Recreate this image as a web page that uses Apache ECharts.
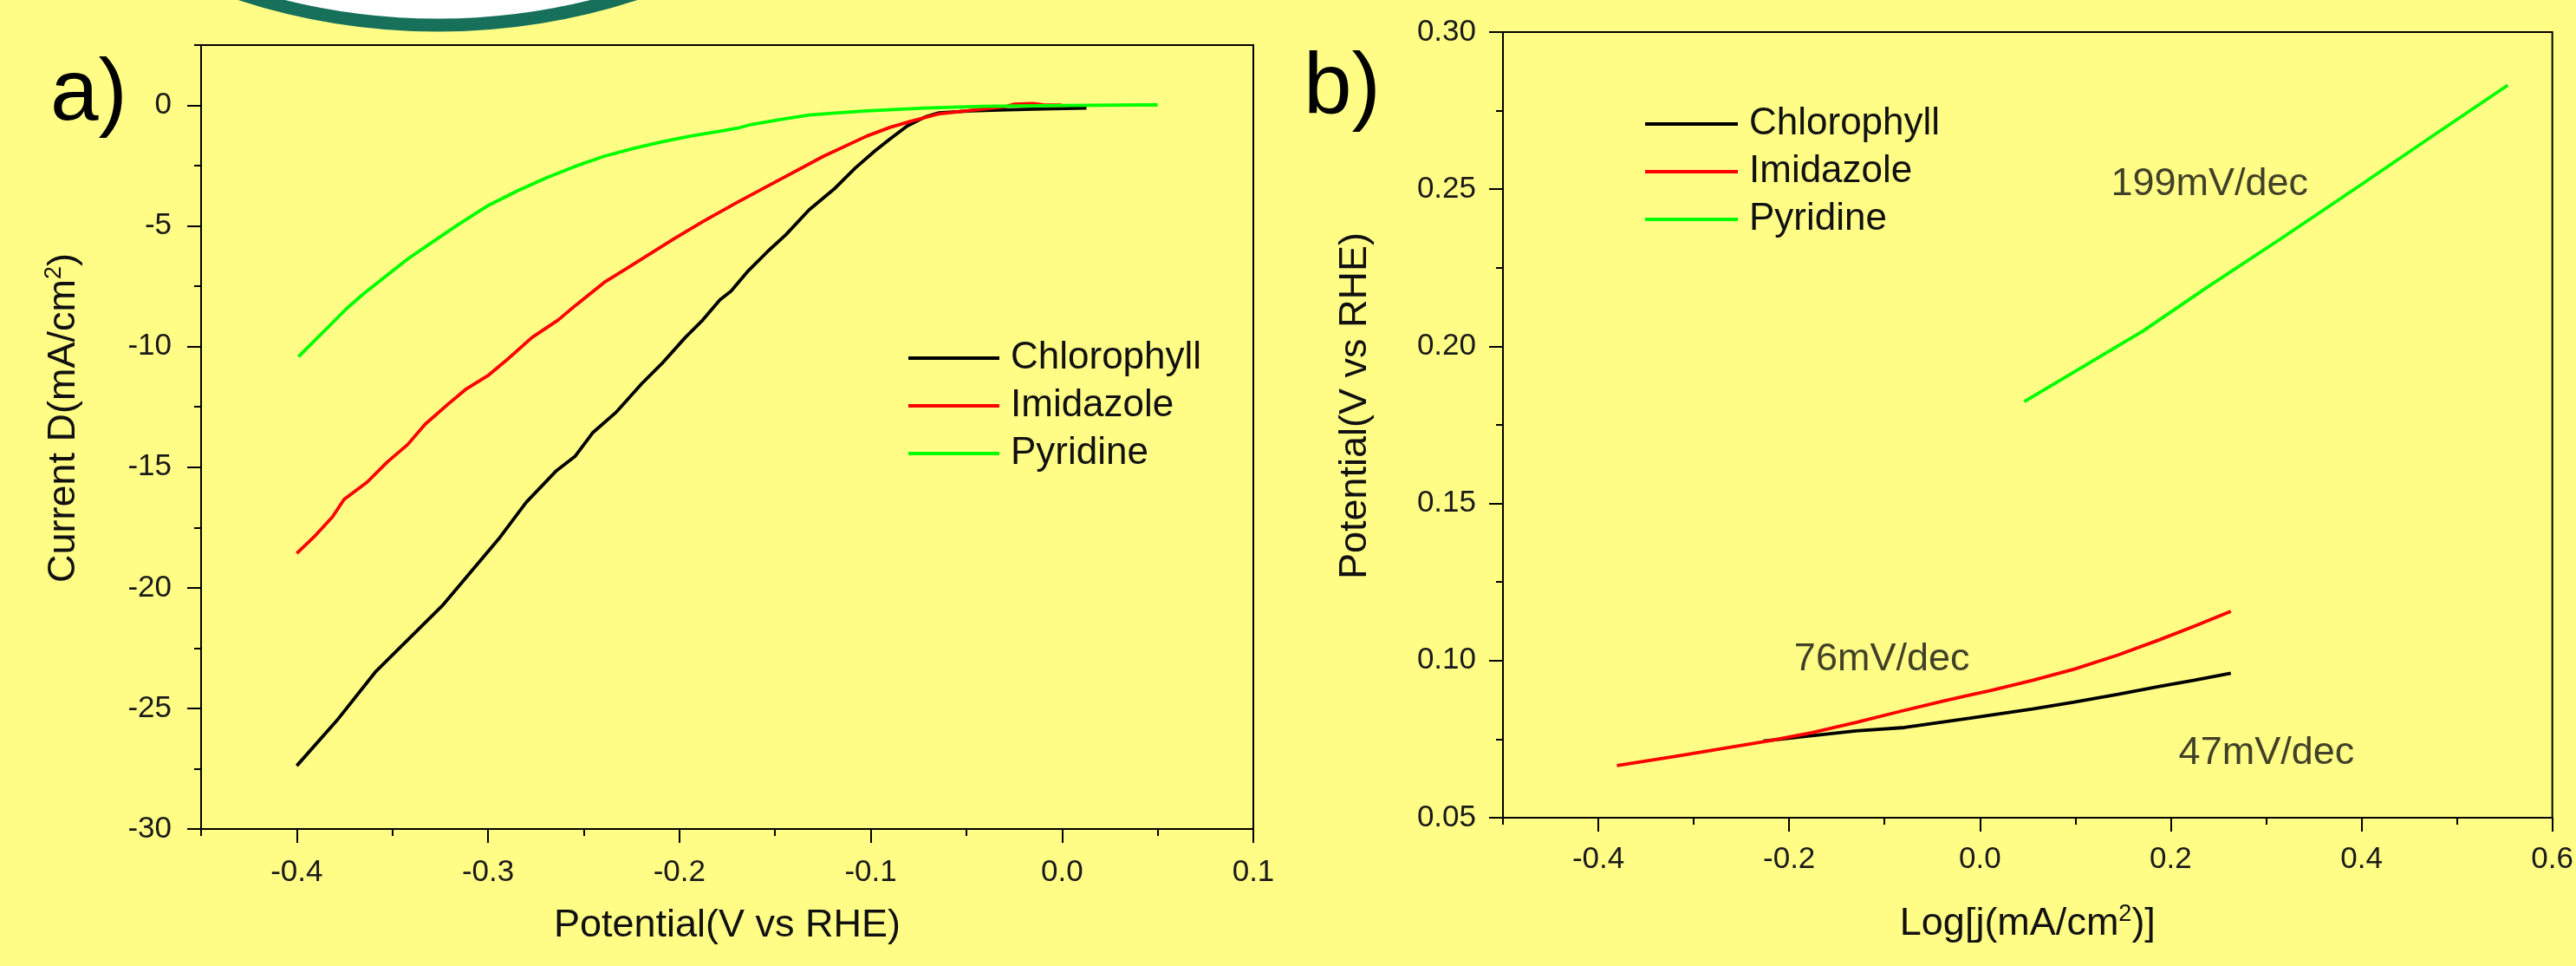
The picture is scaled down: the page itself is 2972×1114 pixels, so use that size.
<!DOCTYPE html>
<html>
<head>
<meta charset="utf-8">
<script src="https://cdn.jsdelivr.net/npm/echarts@6/dist/echarts.min.js"></script>
<style>
  html, body { margin: 0; padding: 0; background: #FFFD86; }
  #main { width: 2972px; height: 1114px; }
</style>
</head>
<body>
<div id="main"></div>
<script>
// ---------- data ----------
const seriesNames = ['Chlorophyll', 'Imidazole', 'Pyridine'];
const seriesColors = ['#000000', '#FF0000', '#00FF00'];

// panel a: Potential (V vs RHE) vs Current density (mA/cm2)
const chlorophyllA = [
  [-0.400, -27.38], [-0.379, -25.50], [-0.359, -23.50], [-0.324, -20.75],
  [-0.2937, -17.90], [-0.2801, -16.46], [-0.2642, -15.14], [-0.2544, -14.54],
  [-0.2454, -13.58], [-0.2333, -12.74], [-0.2197, -11.54], [-0.2091, -10.70],
  [-0.1969, -9.62], [-0.1878, -8.90], [-0.1788, -8.06], [-0.1730, -7.70],
  [-0.1640, -6.86], [-0.1534, -6.02], [-0.1443, -5.36], [-0.1322, -4.33],
  [-0.1186, -3.43], [-0.1080, -2.59], [-0.0975, -1.87], [-0.0899, -1.39],
  [-0.0809, -0.85], [-0.0718, -0.49], [-0.0643, -0.31], [-0.0476, -0.23],
  [-0.0326, -0.19], [-0.010, -0.15], [0.0128, -0.11]
];
const imidazoleA = [
  [-0.400, -18.57], [-0.3911, -17.90], [-0.3813, -17.06], [-0.3753, -16.34],
  [-0.3632, -15.62], [-0.3526, -14.78], [-0.3420, -14.06], [-0.3329, -13.22],
  [-0.3208, -12.38], [-0.3118, -11.78], [-0.2997, -11.18], [-0.2906, -10.58],
  [-0.2770, -9.62], [-0.2634, -8.90], [-0.2544, -8.30], [-0.2393, -7.34],
  [-0.2272, -6.74], [-0.2151, -6.14], [-0.2030, -5.54], [-0.1878, -4.82],
  [-0.1700, -4.03], [-0.1473, -3.07], [-0.1247, -2.11], [-0.1020, -1.27],
  [-0.0899, -0.91], [-0.0794, -0.67], [-0.0643, -0.35], [-0.0462, -0.19],
  [-0.0300, -0.06], [-0.0250, 0.05], [-0.0152, 0.08], [-0.0100, 0.02], [0.000, 0.01]
];
const pyridineA = [
  [-0.3991, -10.42], [-0.3905, -9.74], [-0.3829, -9.14], [-0.3739, -8.42],
  [-0.3648, -7.79], [-0.3527, -7.04], [-0.3422, -6.38], [-0.3301, -5.72],
  [-0.3150, -4.91], [-0.2999, -4.15], [-0.2848, -3.55], [-0.2697, -3.01],
  [-0.2546, -2.53], [-0.2394, -2.11], [-0.2244, -1.79], [-0.2093, -1.51],
  [-0.1941, -1.27], [-0.1790, -1.07], [-0.1700, -0.95], [-0.1624, -0.79],
  [-0.1473, -0.59], [-0.1322, -0.40], [-0.1171, -0.31], [-0.1020, -0.23],
  [-0.0718, -0.11], [-0.0416, -0.04], [0.0000, 0.00], [0.0430, 0.02], [0.0500, 0.02]
];

// panel b: Tafel plots, Log[j] vs Potential
const chlorophyllB = [
  [-0.227, 0.0744], [-0.180, 0.0760], [-0.130, 0.0776], [-0.079, 0.0787],
  [-0.010, 0.0817], [0.010, 0.0826], [0.055, 0.0846], [0.099, 0.0868],
  [0.145, 0.0893], [0.188, 0.0918], [0.225, 0.0938], [0.263, 0.0960]
];
const imidazoleB = [
  [-0.3805, 0.0666], [-0.320, 0.0695], [-0.268, 0.0721], [-0.220, 0.0745],
  [-0.176, 0.0771], [-0.130, 0.0803], [-0.084, 0.0838], [-0.040, 0.0870],
  [-0.010, 0.0891], [0.010, 0.0904], [0.055, 0.0937], [0.099, 0.0973],
  [0.145, 0.1018], [0.188, 0.1066], [0.225, 0.1110], [0.263, 0.1157]
];
const pyridineB = [
  [0.0465, 0.1824], [0.1711, 0.2049], [0.2377, 0.2187], [0.3162, 0.2344],
  [0.3945, 0.2504], [0.4729, 0.2666], [0.5533, 0.2831]
];

// annotations in panel b (text, x, y in data units)
const annotText = ['199mV/dec', '76mV/dec', '47mV/dec'];
const annotX = [0.2407, -0.1028, 0.3004];
const annotY = [0.2516, 0.1003, 0.0705];

// tick values
const xMajorA = [-0.4, -0.3, -0.2, -0.1, 0.0, 0.1];
const xMinorA = [-0.45, -0.35, -0.25, -0.15, -0.05, 0.05];
const yMajorA = [-30, -25, -20, -15, -10, -5, 0];
const yMinorA = [-27.5, -22.5, -17.5, -12.5, -7.5, -2.5, 2.5];
const xMajorB = [-0.4, -0.2, 0.0, 0.2, 0.4, 0.6];
const xMinorB = [-0.5, -0.3, -0.1, 0.1, 0.3, 0.5];
const yMajorB = [0.05, 0.10, 0.15, 0.20, 0.25, 0.30];
const yMinorB = [0.075, 0.125, 0.175, 0.225, 0.275];

// ---------- chart ----------
const FONT = '"Liberation Sans", Arial, Helvetica, sans-serif';
const chart = echarts.init(document.getElementById('main'), null, { renderer: 'canvas' });

const supRich = {
  sup: { fontSize: 27, lineHeight: 27, verticalAlign: 'top', fontFamily: FONT, color: '#111' }
};

function majorAxis(o) {
  return {
    type: 'value', gridIndex: o.grid, min: o.min, max: o.max, position: o.position,
    name: o.name, nameLocation: 'middle', nameGap: o.nameGap,
    nameTextStyle: Object.assign({ fontSize: 45, fontFamily: FONT, color: '#111', lineHeight: 50, rich: supRich }, o.nameStyle || {}),
    axisLine: { show: true, onZero: false, lineStyle: { color: '#000', width: 2 } },
    axisTick: { show: true, inside: false, customValues: o.ticks, length: 16, lineStyle: { color: '#000', width: 2 } },
    axisLabel: { show: true, customValues: o.ticks, formatter: o.fmt, margin: o.margin, fontSize: 35, fontFamily: FONT, color: '#1a1a1a' },
    splitLine: { show: false }
  };
}
function minorAxis(o) {
  return {
    type: 'value', gridIndex: o.grid, min: o.min, max: o.max, position: o.position,
    axisLine: { show: false, onZero: false },
    axisTick: { show: true, inside: false, customValues: o.ticks, length: 8, lineStyle: { color: '#000', width: 2 } },
    axisLabel: { show: false, customValues: o.ticks },
    splitLine: { show: false }
  };
}

function lineSeries(name, data, color, xi, yi) {
  return {
    name: name, type: 'line', data: data, xAxisIndex: xi, yAxisIndex: yi,
    showSymbol: false, symbol: 'none', smooth: false, animation: false,
    lineStyle: { color: color, width: 3.8 }, itemStyle: { color: color },
    emphasis: { disabled: true }
  };
}

const legendCommon = {
  orient: 'vertical', icon: 'rect', itemHeight: 4, itemGap: 11,
  data: seriesNames, selectedMode: false,
  textStyle: { fontSize: 44, lineHeight: 44, fontFamily: FONT, color: '#111', padding: [0, 0, 0, 8] }
};

const option = {
  backgroundColor: '#FFFD86',
  animation: false,
  graphic: [
    { type: 'circle', shape: { cx: 505, cy: -709, r: 738 }, style: { fill: '#FFFFFF', stroke: '#16705A', lineWidth: 15 }, z: -1, silent: true },
    { type: 'text', left: 58, top: 60, style: { text: 'a)', fontSize: 100, fontFamily: FONT, fill: '#000' }, silent: true },
    { type: 'text', left: 1504, top: 53, style: { text: 'b)', fontSize: 100, fontFamily: FONT, fill: '#000' }, silent: true }
  ],
  grid: [
    { left: 232, top: 52, width: 1214, height: 904, show: true, borderColor: '#000', borderWidth: 2, backgroundColor: 'transparent' },
    { left: 1734, top: 37, width: 1217, height: 906, show: true, borderColor: '#000', borderWidth: 2, backgroundColor: 'transparent' }
  ],
  legend: [
    Object.assign({}, legendCommon, { left: 1043, top: 386, itemWidth: 105 }),
    Object.assign({}, legendCommon, { left: 1893, top: 116, itemWidth: 107 })
  ],
  xAxis: [
    majorAxis({ grid: 0, min: -0.45, max: 0.1, position: 'bottom', ticks: xMajorA, fmt: v => v.toFixed(1), margin: 33,
      name: 'Potential(V vs RHE)', nameGap: 87 }),
    minorAxis({ grid: 0, min: -0.45, max: 0.1, position: 'bottom', ticks: xMinorA }),
    majorAxis({ grid: 1, min: -0.5, max: 0.6, position: 'bottom', ticks: xMajorB, fmt: v => v.toFixed(1), margin: 31,
      name: 'Log[j(mA/cm{sup|2})]', nameGap: 98 }),
    minorAxis({ grid: 1, min: -0.5, max: 0.6, position: 'bottom', ticks: xMinorB })
  ],
  yAxis: [
    majorAxis({ grid: 0, min: -30, max: 2.5, position: 'left', ticks: yMajorA, fmt: v => String(Math.round(v)), margin: 34,
      name: 'Current D(mA/cm{sup|2})', nameGap: 133, nameStyle: { padding: [0, 0, 0, 44] } }),
    minorAxis({ grid: 0, min: -30, max: 2.5, position: 'left', ticks: yMinorA }),
    majorAxis({ grid: 1, min: 0.05, max: 0.30, position: 'left', ticks: yMajorB, fmt: v => v.toFixed(2), margin: 31,
      name: 'Potential(V vs RHE)', nameGap: 145, nameStyle: { padding: [0, 0, 0, 44] } }),
    minorAxis({ grid: 1, min: 0.05, max: 0.30, position: 'left', ticks: yMinorB })
  ],
  series: [
    lineSeries(seriesNames[0], chlorophyllA, seriesColors[0], 0, 0),
    lineSeries(seriesNames[1], imidazoleA, seriesColors[1], 0, 0),
    lineSeries(seriesNames[2], pyridineA, seriesColors[2], 0, 0),
    lineSeries(seriesNames[0], chlorophyllB, seriesColors[0], 2, 2),
    lineSeries(seriesNames[1], imidazoleB, seriesColors[1], 2, 2),
    lineSeries(seriesNames[2], pyridineB, seriesColors[2], 2, 2),
    {
      name: 'annotations', type: 'scatter', xAxisIndex: 2, yAxisIndex: 2, silent: true,
      symbolSize: 1, itemStyle: { color: 'rgba(0,0,0,0)' },
      data: annotText.map((t, i) => ({ name: t, value: [annotX[i], annotY[i]] })),
      label: { show: true, position: 'inside', formatter: p => p.name, fontSize: 45, fontFamily: FONT, color: '#111' }
    }
  ]
};
chart.setOption(option);
</script>
</body>
</html>
